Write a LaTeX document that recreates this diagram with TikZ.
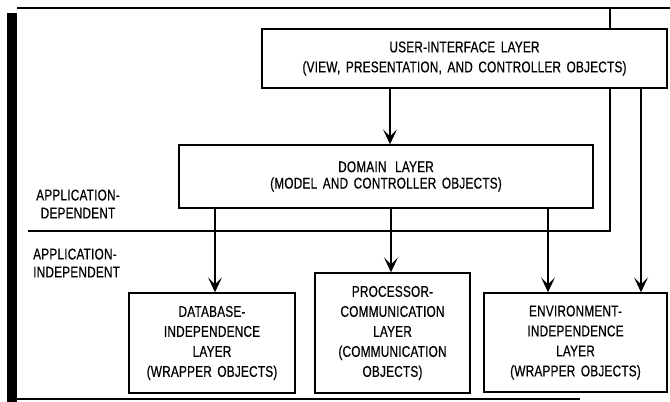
\documentclass[tikz,border=0pt]{standalone}
\usepackage{fontspec}
\setmainfont{Liberation Sans}[FakeStretch=0.76, LetterSpace=1.5, WordSpace=1.6, FakeBold=0.6]
\usetikzlibrary{arrows.meta}
\tikzset{
  layer/.style={draw, line width=1.4pt, fill=white, align=center, inner sep=0pt,
    font=\fontsize{15.5}{20}\selectfont},
  lab/.style={inner sep=0pt, font=\fontsize{15.5}{18}\selectfont},
  arr/.style={line width=1.3pt, -{Stealth[length=15pt,width=14pt,inset=7pt]}},
  rule/.style={line width=1.4pt}
}
\begin{document}
\begin{tikzpicture}[x=1pt,y=-1pt]
\useasboundingbox (0,0) rectangle (670,402);
% frame
\fill[black] (7,13) rectangle (17,402);
\coordinate (tl) at (17,8);
\coordinate (tr) at (670,8);
\coordinate (bl) at (17,399);
\coordinate (br) at (580,399);
\draw[rule] (tl) -- (tr);
\draw[line width=1.8pt] (bl) -- (br);
% layer boxes
\node[layer, minimum width=405, minimum height=59] (ui) at (464.5,58.5)
  {USER-INTERFACE LAYER\\(VIEW, PRESENTATION, AND CONTROLLER OBJECTS)};
\node[layer, minimum width=414, minimum height=63] (dom) at (386,176.5)
  {\raisebox{-3pt}{\shortstack{DOMAIN\hspace{3pt} LAYER\\[2pt](MODEL AND CONTROLLER OBJECTS)}}};
\node[layer, minimum width=166, minimum height=100] (db) at (212,343)
  {DATABASE-\\INDEPENDENCE\\LAYER\\(WRAPPER OBJECTS)};
\node[layer, minimum width=155, minimum height=120] (proc) at (392.5,333)
  {PROCESSOR-\\COMMUNICATION\\LAYER\\(COMMUNICATION\\OBJECTS)};
\node[layer, minimum width=183, minimum height=99] (env) at (575.5,342.5)
  {ENVIRONMENT-\\INDEPENDENCE\\LAYER\\(WRAPPER OBJECTS)};
% side labels
\node[lab, align=center] (dep) at (78,204) {APPLICATION-\\DEPENDENT};
\node[lab, align=left, anchor=west] (indep) at (33,263) {APPLICATION-\\INDEPENDENT};
% divider
\coordinate (dl) at (28,231);
\coordinate (dr) at (610,231);
\coordinate (tp) at (610,8);
\draw[rule] (dl) -- (dr) -- (ui.south -| dr);
\draw[rule] (ui.north -| dr) -- (tp);
% arrows
\coordinate (xa) at (390,0);
\coordinate (xb) at (215,0);
\coordinate (xc) at (391,0);
\coordinate (xd) at (548,0);
\coordinate (xe) at (641,0);
\draw[arr] (ui.south -| xa) -- (dom.north -| xa);
\draw[arr] (dom.south -| xb) -- (db.north -| xb);
\draw[arr] (dom.south -| xc) -- (proc.north -| xc);
\draw[arr] (dom.south -| xd) -- (env.north -| xd);
\draw[arr] (ui.south -| xe) -- (env.north -| xe);
\end{tikzpicture}
\end{document}
